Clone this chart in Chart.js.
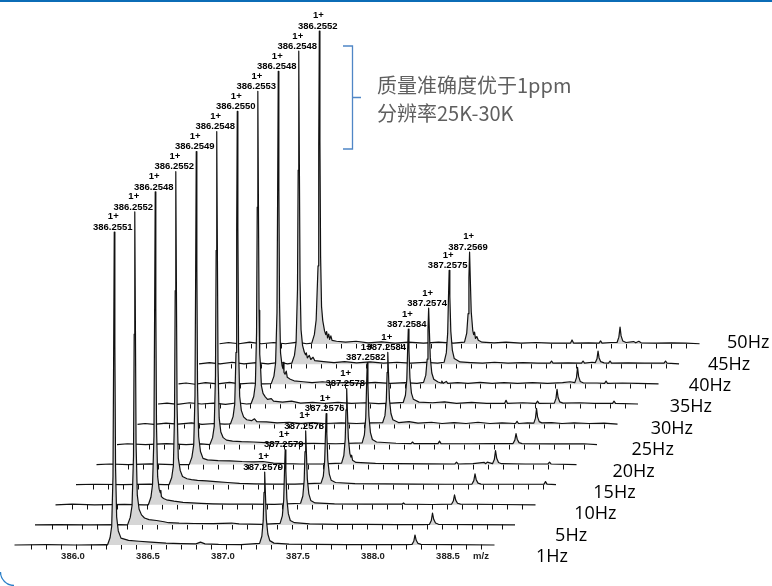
<!DOCTYPE html>
<html>
<head>
<meta charset="utf-8">
<script src="https://cdn.jsdelivr.net/npm/chart.js@4.4.1/dist/chart.umd.min.js"></script>
<style>
  html, body { margin: 0; padding: 0; background: #fff; }
  #wrap { position: relative; width: 772px; height: 586px; }
</style>
</head>
<body>
<div id="wrap"><canvas id="c"></canvas></div>
<script>
// Scan-rate series, front (1Hz) to back (50Hz)
const seriesNames = ['1Hz', '5Hz', '10Hz', '15Hz', '20Hz', '25Hz', '30Hz', '35Hz', '40Hz', '45Hz', '50Hz'];

// Monoisotopic peak (labelled m/z), intensity normalised to 100
const mainPeakMz = [386.2551, 386.2552, 386.2548, 386.2552, 386.2549, 386.2548, 386.2550, 386.2553, 386.2548, 386.2548, 386.2552];
const mainPeakInt = [100, 100, 100, 100, 100, 100, 100, 100, 100, 100, 100];

// 13C isotope peak (labelled m/z) and its relative intensity
const isoPeakMz = [387.2579, 387.2579, 387.2578, 387.2576, 387.2578, 387.2582, 387.2584, 387.2584, 387.2574, 387.2575, 387.2569];
const isoPeakInt = [23.3, 24, 23.6, 22.7, 24.3, 26.2, 23, 24, 24.3, 30, 29.4];

const chargeLabel = '1+';

// m/z axis tick labels under the front spectrum
const axisTicks = [386.0, 386.5, 387.0, 387.5, 388.0, 388.5];
const axisTitle = 'm/z';
const axisTitleMz = 388.72;

// Profile spectra: [m/z, relative intensity]
const spectrum1Hz = [
  [385.59,0],[385.80,0.1],[386.00,0],[386.20,0.1],
  [386.210,0],[386.227,2.3],[386.238,6],[386.2466,22],[386.2511,62],[386.2551,100],[386.2591,64],[386.2636,25],[386.271,9],[386.282,4.5],[386.300,2.2],[386.350,1.5],[386.420,1.2],[386.500,0.9],[386.600,0.6],[386.700,0.45],[386.800,0.35],[386.830,0.9],[386.860,0.35],[386.950,0.2],[387.100,0.15],
  [387.2239,0.5],[387.2389,2.8],[387.2479,7.7],[387.2534,16.8],[387.2579,23.3],[387.2624,16.8],[387.2689,8.2],[387.2789,3.5],[387.2919,1.4],[387.320,0.6],[387.420,0.3],[387.600,0.2],[387.800,0.15],[388.000,0.1],[388.200,0.15],
  [388.240,0.2],[388.252,1.2],[388.260,3.2],[388.268,1.5],[388.280,0.5],[388.300,0.2],[388.500,0.1],[388.790,0]
];
const spectrum5Hz = [
  [385.59,0],[385.75,0.1],[385.95,0],[386.15,0.1],
  [386.207,0],[386.225,2.4],[386.237,6.2],[386.2467,22],[386.2512,61],[386.2552,100],[386.2592,65],[386.2637,26],[386.272,9.5],[386.284,5],[386.300,3.2],[386.320,2.2],[386.350,1.7],[386.400,1.4],[386.450,1.0],[386.480,0.7],[386.550,0.55],[386.650,0.45],[386.780,0.4],[386.900,0.6],[386.950,0.3],[387.100,0.2],
  [387.2239,0.5],[387.2389,2.9],[387.2479,7.9],[387.2534,17.3],[387.2579,24],[387.2624,17.3],[387.2689,8.4],[387.2789,3.6],[387.2919,1.4],[387.320,0.7],[387.420,0.35],[387.600,0.2],[387.800,0.15],[388.000,0.1],[388.180,0.1],
  [388.220,0.2],[388.232,1.4],[388.240,3.8],[388.248,1.8],[388.260,0.6],[388.280,0.2],[388.500,0.1],[388.790,0]
];
const spectrum10Hz = [
  [385.59,0],[385.70,0.2],[385.85,0],[386.05,0.15],[386.18,0],
  [386.209,0],[386.226,2.4],[386.237,6.5],[386.2463,22],[386.2508,62],[386.2548,100],[386.2588,63],[386.2633,25],[386.271,9],[386.281,5],[386.289,3.8],[386.292,4.6],[386.296,2.6],[386.310,2.0],[386.330,1.6],[386.380,1.2],[386.440,0.8],[386.500,0.6],[386.560,0.45],[386.640,0.3],[386.750,0.2],[386.900,0.25],[387.050,0.15],
  [387.2238,0.5],[387.2388,2.8],[387.2478,7.8],[387.2533,17],[387.2578,23.6],[387.2623,17],[387.2688,8.3],[387.2788,3.5],[387.2918,1.4],[387.320,0.6],[387.450,0.3],[387.650,0.2],[387.900,0.2],[387.910,0.6],[387.920,0.2],[388.100,0.1],
  [388.230,0.2],[388.242,1.2],[388.250,3.2],[388.258,1.5],[388.270,0.5],[388.290,0.2],[388.550,0.1],[388.790,0]
];
const spectrum15Hz = [
  [385.59,0],[385.72,0.15],[385.90,0],[386.08,0.2],[386.18,0],
  [386.210,0],[386.228,2.3],[386.239,6],[386.2467,22],[386.2512,62],[386.2552,100],[386.2592,64],[386.2637,25],[386.272,8.5],[386.285,4.5],[386.300,2.6],[386.330,1.9],[386.360,1.6],[386.400,1.4],[386.460,1.2],[386.520,1.0],[386.600,0.7],[386.680,0.4],[386.780,0.3],[386.900,0.2],[387.050,0.2],
  [387.2236,0.5],[387.2386,2.7],[387.2476,7.5],[387.2531,16.3],[387.2576,22.7],[387.2621,16.3],[387.2686,7.9],[387.2786,3.4],[387.2916,1.4],[387.320,0.7],[387.450,0.35],[387.650,0.25],[387.850,0.2],[388.050,0.15],
  [388.230,0.2],[388.242,1.3],[388.250,3.5],[388.258,1.6],[388.270,0.5],[388.290,0.2],[388.500,0.15],[388.710,0.2],[388.720,1.0],[388.730,0.2],[388.790,0]
];
const spectrum20Hz = [
  [385.59,0],[385.68,0.2],[385.80,0],[385.95,0.25],[386.10,0],
  [386.208,0],[386.226,2.4],[386.238,6.3],[386.2464,22],[386.2509,61],[386.2549,100],[386.2589,63],[386.2634,25],[386.271,9],[386.283,4.2],[386.300,2.0],[386.330,1.5],[386.400,1.3],[386.480,1.2],[386.560,1.0],[386.640,0.9],[386.700,1.0],[386.770,0.5],[386.850,0.3],[386.950,0.2],[387.100,0.25],
  [387.2238,0.5],[387.2388,2.9],[387.2478,8],[387.2533,17.5],[387.2578,24.3],[387.2623,17.5],[387.2688,8.5],[387.2788,3.6],[387.286,2.4],[387.291,3.0],[387.297,1.4],[387.320,0.7],[387.450,0.4],[387.600,0.3],[387.800,0.25],[387.980,0.2],[387.990,0.8],[388.000,0.2],[388.100,0.3],[388.175,0.7],[388.185,0.3],[388.195,0.8],
  [388.230,0.3],[388.242,1.6],[388.250,4.5],[388.258,2],[388.270,0.7],[388.290,0.3],[388.450,0.2],[388.600,0.2],[388.610,0.8],[388.620,0.2],[388.790,0]
];
const spectrum25Hz = [
  [385.59,0],[385.66,0.25],[385.78,0],[385.92,0.3],[386.05,0],[386.15,0.2],
  [386.209,0],[386.227,2.2],[386.238,5.8],[386.2463,22],[386.2508,62],[386.2548,100],[386.2588,64],[386.2633,25],[386.271,8.5],[386.282,4],[386.298,2.2],[386.320,1.4],[386.360,1.1],[386.420,0.9],[386.500,0.8],[386.580,0.6],[386.660,0.4],[386.760,0.3],[386.900,0.35],[387.050,0.25],
  [387.2242,0.5],[387.2392,3.1],[387.2482,8.6],[387.2537,18.9],[387.2582,26.2],[387.2627,18.9],[387.2692,9.2],[387.2792,3.9],[387.2922,1.6],[387.320,0.8],[387.450,0.4],[387.550,0.3],[387.560,0.8],[387.570,0.3],[387.730,0.3],[387.740,1.1],[387.750,0.3],[387.950,0.25],[388.100,0.3],
  [388.230,0.3],[388.242,1.4],[388.250,3.5],[388.258,1.7],[388.270,0.6],[388.290,0.3],[388.500,0.2],[388.700,0.25],[388.790,0]
];
const spectrum30Hz = [
  [385.59,0],[385.64,0.3],[385.70,0],[385.78,0.4],[385.86,0.1],[385.95,0.5],[386.02,0],[386.10,0.3],[386.17,0.1],
  [386.210,0.2],[386.227,2.5],[386.238,6.5],[386.2465,23],[386.2510,62],[386.2550,100],[386.2590,63],[386.2635,25],[386.271,9],[386.282,4.5],[386.297,2.4],[386.318,1.5],[386.350,1.2],[386.370,1.8],[386.385,0.9],[386.450,0.8],[386.520,0.5],[386.600,0.7],[386.680,0.35],[386.760,0.6],[386.840,0.3],[386.950,0.5],[387.050,0.3],[387.150,0.5],
  [387.2244,0.6],[387.2394,2.8],[387.2484,7.6],[387.2539,16.6],[387.2584,23],[387.2629,16.6],[387.2694,8],[387.2794,3.5],[387.2924,1.5],[387.330,0.6],[387.400,0.9],[387.460,0.4],[387.550,0.7],[387.620,0.3],[387.700,0.6],[387.780,0.3],[387.860,0.7],[387.940,0.3],[388.020,0.5],[388.110,0.3],[388.120,1.0],[388.130,0.3],[388.190,0.5],
  [388.232,0.4],[388.243,2],[388.250,5.1],[388.257,2.4],[388.268,0.9],[388.285,0.5],[388.350,0.6],[388.420,0.3],[388.500,0.5],[388.600,0.3],[388.700,0.4],[388.790,0.1]
];
const spectrum35Hz = [
  [385.59,0.1],[385.65,0.4],[385.72,0],[385.80,0.5],[385.88,0.1],[385.96,0.4],[386.04,0],[386.12,0.5],[386.18,0.1],
  [386.210,0.2],[386.228,2.5],[386.239,6.5],[386.2468,23],[386.2513,63],[386.2553,100],[386.2593,64],[386.2635,30],[386.268,16],[386.2725,13],[386.279,6],[386.290,3.5],[386.305,2.4],[386.320,1.6],[386.345,1.8],[386.360,1.0],[386.420,0.7],[386.480,1.0],[386.540,0.4],[386.620,0.6],[386.700,0.3],[386.790,0.6],[386.880,0.3],[386.970,0.5],[387.060,0.2],[387.150,0.4],
  [387.2244,0.6],[387.2394,2.9],[387.2484,7.9],[387.2539,17.3],[387.2584,24],[387.2629,17.3],[387.2694,8.4],[387.2794,3.6],[387.2924,1.6],[387.330,0.7],[387.420,0.5],[387.500,0.8],[387.580,0.3],[387.680,0.6],[387.780,0.3],[387.900,0.3],[387.910,1.3],[387.920,0.3],[388.020,0.5],[388.110,0.3],[388.120,1.0],[388.130,0.3],
  [388.232,0.4],[388.243,1.9],[388.250,4.8],[388.257,2.2],[388.268,0.8],[388.290,0.4],[388.400,0.5],[388.500,0.3],[388.620,0.3],[388.630,1.0],[388.640,0.3],[388.790,0.1]
];
const spectrum40Hz = [
  [385.59,0.1],[385.64,0.4],[385.70,0],[385.77,0.5],[385.85,0.1],[385.93,0.6],[386.00,0.1],[386.08,0.4],[386.15,0.1],
  [386.208,0.2],[386.226,2.6],[386.237,6.8],[386.2463,23],[386.2508,62],[386.2548,100],[386.2588,63],[386.2633,26],[386.270,10],[386.280,6],[386.286,5],[386.289,7],[386.293,3.8],[386.300,3.2],[386.308,4.2],[386.315,2.2],[386.335,1.6],[386.360,1.1],[386.420,0.8],[386.480,0.5],[386.550,0.8],[386.630,0.4],[386.720,0.6],[386.800,0.3],[386.900,0.6],[387.000,0.3],[387.100,0.5],[387.180,0.3],
  [387.2234,0.6],[387.2384,2.9],[387.2474,8],[387.2529,17.5],[387.2574,24.3],[387.2619,17.5],[387.2684,8.5],[387.2784,3.6],[387.2914,1.6],[387.320,0.7],[387.340,0.4],[387.345,1.0],[387.355,0.3],[387.375,0.9],[387.385,0.3],[387.450,0.5],[387.520,0.3],[387.600,0.6],[387.680,0.3],[387.760,0.5],[387.850,0.3],[387.950,0.5],[388.050,0.3],[388.150,0.5],[388.200,0.8],
  [388.232,0.5],[388.243,2.1],[388.250,5.4],[388.257,2.5],[388.268,0.9],[388.290,0.4],[388.380,0.4],[388.430,0.3],[388.440,1.0],[388.450,0.3],[388.550,0.4],[388.650,0.3],[388.790,0.1]
];
const spectrum45Hz = [
  [385.59,0.1],[385.66,0.5],[385.73,0.1],[385.81,0.6],[385.89,0.1],[385.97,0.5],[386.05,0.1],[386.13,0.6],[386.18,0.1],
  [386.208,0.3],[386.226,2.8],[386.237,7],[386.2463,24],[386.2508,62],[386.2548,100],[386.2588,64],[386.2633,27],[386.270,11],[386.280,6],[386.292,3.8],[386.300,3.0],[386.305,3.6],[386.312,2.0],[386.325,2.8],[386.335,1.5],[386.350,2.2],[386.362,1.1],[386.420,0.8],[386.490,0.5],[386.560,0.8],[386.640,0.4],[386.730,0.7],[386.820,0.3],[386.910,0.6],[387.000,0.3],[387.100,0.6],[387.180,0.3],
  [387.2235,0.6],[387.2385,3.6],[387.2475,9.9],[387.2530,21.6],[387.2575,30],[387.2620,21.6],[387.2685,10.5],[387.2785,4.5],[387.2915,1.8],[387.330,0.7],[387.400,0.5],[387.480,0.3],[387.560,0.6],[387.650,0.3],[387.750,0.5],[387.850,0.3],[387.930,0.3],[387.940,1.0],[387.950,0.3],[388.050,0.4],[388.140,0.3],[388.150,1.0],[388.160,0.3],[388.210,0.6],
  [388.232,0.5],[388.243,1.7],[388.250,4.2],[388.257,2],[388.268,0.8],[388.290,0.4],[388.320,0.3],[388.330,1.0],[388.340,0.3],[388.450,0.4],[388.560,0.3],[388.690,0.3],[388.700,1.0],[388.710,0.3],[388.790,0.1]
];
const spectrum50Hz = [
  [385.59,0.1],[385.65,0.5],[385.72,0.1],[385.79,0.6],[385.87,0.1],[385.95,0.5],[386.03,0.1],[386.11,0.6],[386.17,0.1],
  [386.205,0.3],[386.222,3],[386.234,7.7],[386.2467,25],[386.2512,63],[386.2552,100],[386.2592,65],[386.2637,28],[386.270,12],[386.278,7.5],[386.290,4.2],[386.298,3],[386.304,4],[386.310,2],[386.318,3.2],[386.324,1.5],[386.332,2.6],[386.340,1.2],[386.370,0.9],[386.430,0.6],[386.500,0.9],[386.580,0.4],[386.670,0.7],[386.760,0.3],[386.850,0.6],[386.950,0.3],[387.050,0.6],[387.150,0.3],
  [387.2229,0.6],[387.2379,3.5],[387.2469,9.7],[387.2524,21.2],[387.2569,29.4],[387.2614,21.2],[387.2679,10.3],[387.2779,4.4],[387.284,3.0],[387.290,3.8],[387.296,1.8],[387.305,2.4],[387.315,1.2],[387.340,0.6],[387.420,0.4],[387.500,0.6],[387.600,0.3],[387.700,0.5],[387.800,0.3],[387.930,0.3],[387.940,1.3],[387.950,0.3],[388.050,0.4],[388.120,0.3],[388.130,1.0],[388.140,0.3],[388.200,0.5],
  [388.240,0.5],[388.252,2.2],[388.260,5.4],[388.267,2.6],[388.278,1],[388.300,0.5],[388.350,0.8],[388.365,0.4],[388.385,0.9],[388.400,0.4],[388.500,0.3],[388.600,0.4],[388.700,0.3],[388.790,0.1]
];

const spectra = [spectrum1Hz, spectrum5Hz, spectrum10Hz, spectrum15Hz, spectrum20Hz, spectrum25Hz,
                 spectrum30Hz, spectrum35Hz, spectrum40Hz, spectrum45Hz, spectrum50Hz];

const noteLines = ['质量准确度优于1ppm', '分辨率25K-30K'];

// ---- waterfall layout ----
const STEP_MZ = 0.1367;   // horizontal shift between consecutive spectra (m/z units)
const STEP_INT = 6.42;    // vertical shift between consecutive spectra (intensity units)
const TRACE_START = 385.59, TRACE_END = 388.79;
const PX_PER_MZ = 150, PX_PER_INT = 3.13;
const CHART_W = 772, AREA_BOTTOM = 547.3, BASE_PX = 545;
const X_MIN = 386 - 76 / PX_PER_MZ;
const X_MAX = X_MIN + CHART_W / PX_PER_MZ;
const Y_MIN = -(AREA_BOTTOM - BASE_PX) / PX_PER_INT;
const Y_MAX = Y_MIN + AREA_BOTTOM / PX_PER_INT;

const datasets = spectra.map((pts, k) => ({
  label: seriesNames[k],
  data: pts.map(([mz, v]) => ({ x: mz + k * STEP_MZ, y: v + k * STEP_INT })),
  borderColor: '#111',
  borderWidth: 1.2,
  borderJoinStyle: 'round',
  backgroundColor: '#d6d6d6',
  fill: { value: k * STEP_INT },
  pointRadius: 0,
  tension: 0
}));

const LABEL_FONT = 'bold 9.5px "Liberation Sans", Arial, sans-serif';

// baseline tick marks on every spectrum
const traceTicks = {
  id: 'traceTicks',
  beforeDatasetsDraw(chart) {
    const { ctx, scales: { x, y } } = chart;
    ctx.save();
    ctx.strokeStyle = '#111';
    ctx.lineWidth = 1;
    for (let k = 0; k < spectra.length; k++) {
      const by = Math.round(y.getPixelForValue(k * STEP_INT)) + 0.5;
      for (let i = 0; i <= 30; i++) {
        const mz = 385.7 + i * 0.1;
        const px = Math.round(x.getPixelForValue(mz + k * STEP_MZ)) + 0.5;
        ctx.beginPath();
        ctx.moveTo(px, by - 1);
        ctx.lineTo(px, by + 4);
        ctx.stroke();
      }
    }
    ctx.restore();
  }
};

// charge state + m/z annotations, series names, note
const annotations = {
  id: 'annotations',
  afterDatasetsDraw(chart) {
    const { ctx, scales: { x, y } } = chart;
    ctx.save();
    ctx.fillStyle = '#000';
    ctx.font = LABEL_FONT;
    ctx.textAlign = 'center';
    ctx.textBaseline = 'alphabetic';
    const peakLabel = (mz, inten, k) => {
      const px = x.getPixelForValue(mz + k * STEP_MZ);
      const py = y.getPixelForValue(inten + k * STEP_INT);
      ctx.fillText(chargeLabel, px - 1, py - 12.6);
      ctx.fillText(mz.toFixed(4), px - 1.5, py - 2.3);
    };
    for (let k = 0; k < spectra.length; k++) {
      peakLabel(mainPeakMz[k], mainPeakInt[k], k);
      peakLabel(isoPeakMz[k], isoPeakInt[k], k);
    }

    // series names at the right end of each spectrum
    ctx.font = '18px "Open Sans", "Noto Sans", sans-serif';
    ctx.textAlign = 'left';
    ctx.textBaseline = 'middle';
    for (let k = 0; k < spectra.length; k++) {
      const ex = x.getPixelForValue(TRACE_END + k * STEP_MZ);
      const ey = y.getPixelForValue(k * STEP_INT);
      ctx.fillText(seriesNames[k], ex + 41.5 - 1.4 * k, ey + 12 - 1.3 * k);
    }
    ctx.restore();
  },
  afterDraw(chart) {
    const { ctx } = chart;
    ctx.save();
    // frame
    ctx.fillStyle = '#0b6cb6';
    ctx.fillRect(0, 0, CHART_W, 2);
    ctx.strokeStyle = '#2a7fc8';
    ctx.lineWidth = 1.3;
    ctx.beginPath();
    ctx.arc(14, 572, 13.5, Math.PI, Math.PI / 2, true);
    ctx.stroke();

    // brace
    ctx.strokeStyle = '#4f86c6';
    ctx.lineWidth = 1.3;
    ctx.beginPath();
    ctx.moveTo(343, 46);
    ctx.lineTo(352.5, 46);
    ctx.lineTo(352.5, 149);
    ctx.lineTo(343, 149);
    ctx.moveTo(352.5, 97.5);
    ctx.lineTo(361, 97.5);
    ctx.stroke();

    // note text
    ctx.fillStyle = '#5f5f5f';
    ctx.font = '20px "Noto Sans CJK SC", sans-serif';
    ctx.textAlign = 'left';
    ctx.textBaseline = 'middle';
    ctx.fillText(noteLines[0], 377, 85);
    ctx.fillText(noteLines[1], 377, 113);
    ctx.restore();
  }
};

new Chart(document.getElementById('c'), {
  type: 'line',
  data: { datasets },
  options: {
    responsive: true,
    maintainAspectRatio: false,
    animation: false,
    events: [],
    layout: { padding: { left: 0, right: 0, top: 0, bottom: 21.3 } },
    plugins: { legend: { display: false }, tooltip: { enabled: false } },
    scales: {
      x: {
        type: 'linear',
        min: X_MIN,
        max: X_MAX,
        grid: { display: false, drawTicks: false },
        border: { display: false },
        afterBuildTicks: (axis) => {
          axis.ticks = axisTicks.map(v => ({ value: v })).concat([{ value: axisTitleMz }]);
        },
        ticks: {
          autoSkip: false,
          maxRotation: 0,
          padding: 3,
          labelOffset: -3,
          color: '#222',
          font: { family: '"Liberation Sans", Arial, sans-serif', size: 9.5, weight: 'bold' },
          callback: (v, i) => (i < axisTicks.length ? axisTicks[i].toFixed(1) : axisTitle)
        }
      },
      y: { display: false, min: Y_MIN, max: Y_MAX }
    }
  },
  plugins: [traceTicks, annotations]
});
</script>
</body>
</html>
